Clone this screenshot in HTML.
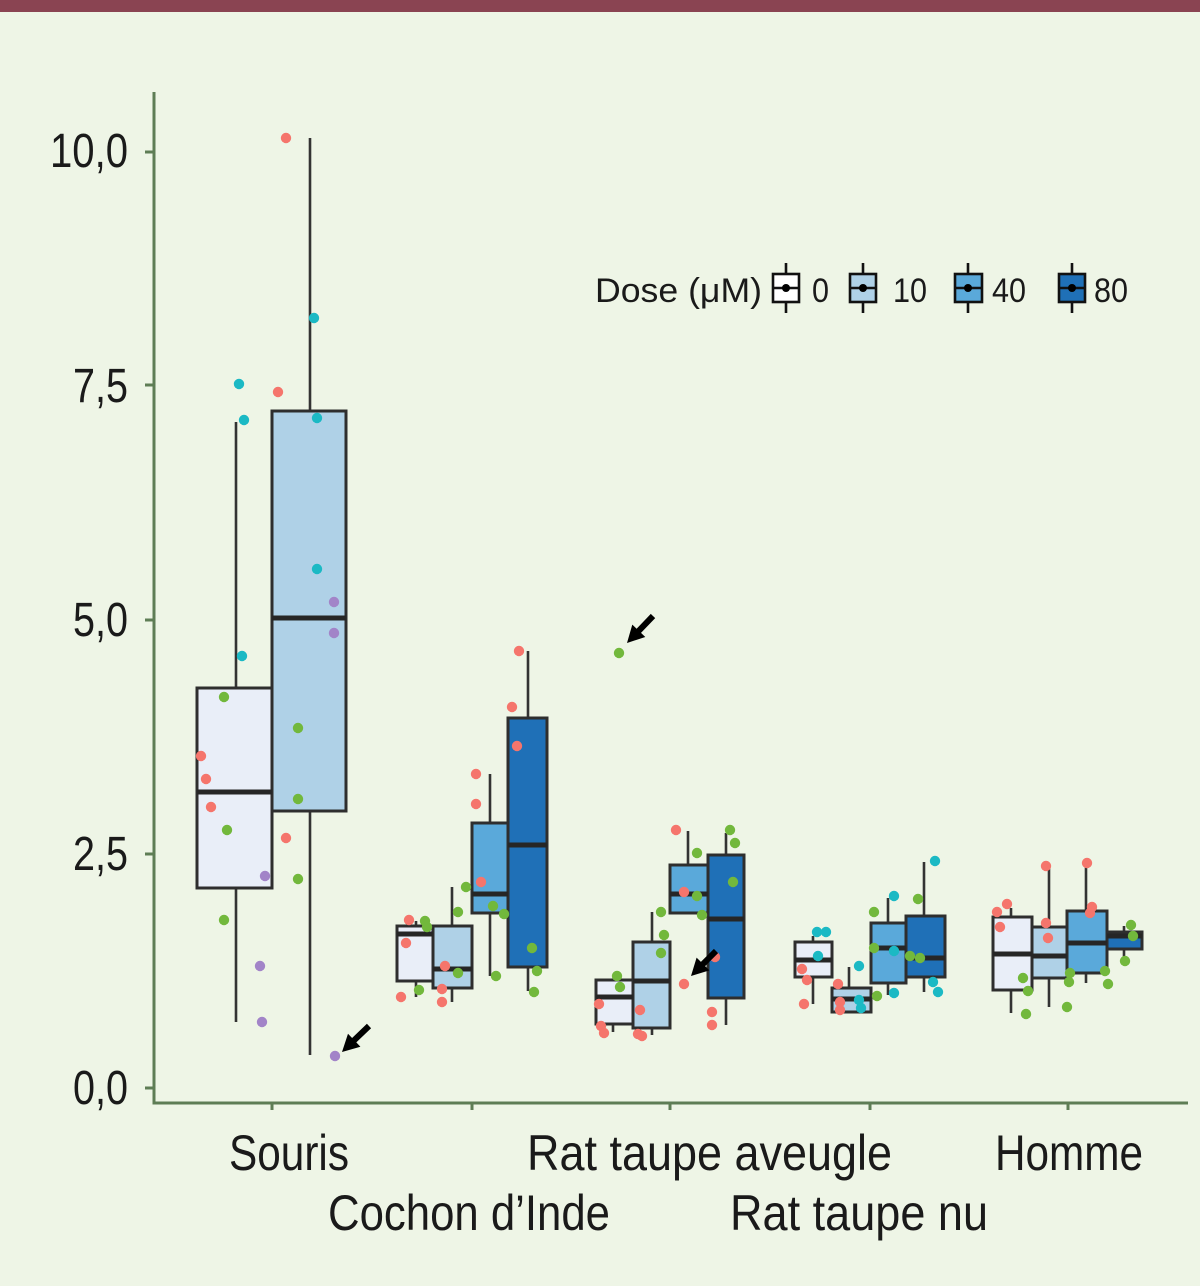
<!DOCTYPE html>
<html>
<head>
<meta charset="utf-8">
<style>
  html, body { margin:0; padding:0; background:#eef5e6; }
  body { width:1200px; height:1286px; overflow:hidden; }
  svg { display:block; }
  text { font-family: "Liberation Sans", "DejaVu Sans", sans-serif; fill:#1a1a1a; }
</style>
</head>
<body>
<svg width="1200" height="1286" viewBox="0 0 1200 1286" xmlns="http://www.w3.org/2000/svg">
  <rect x="0" y="0" width="1200" height="1286" fill="#eef5e6"/>
  <rect x="0" y="0" width="1200" height="12" fill="#8a4452"/>

  <!-- axes -->
  <g stroke="#5e7d55" stroke-width="3" fill="none">
    <line x1="154" y1="92" x2="154" y2="1104"/>
    <line x1="152.5" y1="1103" x2="1188" y2="1103"/>
    <line x1="145" y1="152" x2="154" y2="152"/>
    <line x1="145" y1="385" x2="154" y2="385"/>
    <line x1="145" y1="620" x2="154" y2="620"/>
    <line x1="145" y1="854" x2="154" y2="854"/>
    <line x1="145" y1="1088" x2="154" y2="1088"/>
    <line x1="272" y1="1103" x2="272" y2="1110"/>
    <line x1="472" y1="1103" x2="472" y2="1110"/>
    <line x1="670" y1="1103" x2="670" y2="1110"/>
    <line x1="870" y1="1103" x2="870" y2="1110"/>
    <line x1="1068" y1="1103" x2="1068" y2="1110"/>
  </g>

  <!-- y labels -->
  <g font-size="48">
    <text x="50" y="167" textLength="78" lengthAdjust="spacingAndGlyphs">10,0</text>
    <text x="73" y="402" textLength="55" lengthAdjust="spacingAndGlyphs">7,5</text>
    <text x="73" y="636" textLength="55" lengthAdjust="spacingAndGlyphs">5,0</text>
    <text x="73" y="870" textLength="55" lengthAdjust="spacingAndGlyphs">2,5</text>
    <text x="73" y="1104" textLength="55" lengthAdjust="spacingAndGlyphs">0,0</text>
  </g>

  <!-- x labels -->
  <g font-size="50">
    <text x="229" y="1170" textLength="120" lengthAdjust="spacingAndGlyphs">Souris</text>
    <text x="527" y="1170" textLength="365" lengthAdjust="spacingAndGlyphs">Rat taupe aveugle</text>
    <text x="995" y="1170" textLength="148" lengthAdjust="spacingAndGlyphs">Homme</text>
    <text x="328" y="1230" textLength="282" lengthAdjust="spacingAndGlyphs">Cochon d’Inde</text>
    <text x="730" y="1230" textLength="258" lengthAdjust="spacingAndGlyphs">Rat taupe nu</text>
  </g>

  <!-- whiskers -->
  <g stroke="#333" stroke-width="2.6">
    <line x1="236" y1="422" x2="236" y2="1022"/>
    <line x1="310" y1="138" x2="310" y2="1055"/>
    <line x1="416" y1="921" x2="416" y2="997"/>
    <line x1="452" y1="887" x2="452" y2="1002"/>
    <line x1="490" y1="774" x2="490" y2="976"/>
    <line x1="528" y1="651" x2="528" y2="991"/>
    <line x1="613" y1="980" x2="613" y2="1032"/>
    <line x1="652" y1="912" x2="652" y2="1035"/>
    <line x1="688" y1="831" x2="688" y2="913"/>
    <line x1="726" y1="833" x2="726" y2="1025"/>
    <line x1="813" y1="936" x2="813" y2="1004"/>
    <line x1="849" y1="967" x2="849" y2="1012"/>
    <line x1="888" y1="898" x2="888" y2="995"/>
    <line x1="924" y1="862" x2="924" y2="992"/>
    <line x1="1011" y1="908" x2="1011" y2="1013"/>
    <line x1="1049" y1="865" x2="1049" y2="1007"/>
    <line x1="1086" y1="863" x2="1086" y2="983"/>
    <line x1="1124" y1="926" x2="1124" y2="958"/>
  </g>

  <!-- boxes -->
  <g stroke="#2e2e2e" stroke-width="3">
    <rect x="197" y="688" width="75" height="200" fill="#e9eef8"/>
    <rect x="272" y="411" width="74" height="400" fill="#afd1e7"/>

    <rect x="397" y="926" width="36" height="55" fill="#e9eef8"/>
    <rect x="433" y="926" width="39" height="62" fill="#afd1e7"/>
    <rect x="472" y="823" width="36" height="90" fill="#5aa9da"/>
    <rect x="508" y="718" width="39" height="249" fill="#1f70b7"/>

    <rect x="596" y="980" width="37" height="44" fill="#e9eef8"/>
    <rect x="633" y="942" width="37" height="86" fill="#afd1e7"/>
    <rect x="670" y="865" width="38" height="48" fill="#5aa9da"/>
    <rect x="708" y="855" width="36" height="143" fill="#1f70b7"/>

    <rect x="795" y="942" width="37" height="35" fill="#e9eef8"/>
    <rect x="832" y="988" width="39" height="24" fill="#afd1e7"/>
    <rect x="871" y="923" width="35" height="60" fill="#5aa9da"/>
    <rect x="906" y="916" width="39" height="61" fill="#1f70b7"/>

    <rect x="993" y="917" width="39" height="73" fill="#e9eef8"/>
    <rect x="1032" y="927" width="35" height="51" fill="#afd1e7"/>
    <rect x="1067" y="911" width="40" height="62" fill="#5aa9da"/>
    <rect x="1107" y="932" width="35" height="17" fill="#1f70b7"/>
  </g>

  <!-- medians -->
  <g stroke="#262626" stroke-width="5">
    <line x1="197" y1="792" x2="272" y2="792"/>
    <line x1="272" y1="618" x2="346" y2="618"/>
    <line x1="397" y1="934" x2="433" y2="934"/>
    <line x1="433" y1="969" x2="472" y2="969"/>
    <line x1="472" y1="894" x2="508" y2="894"/>
    <line x1="508" y1="845" x2="547" y2="845"/>
    <line x1="596" y1="997" x2="633" y2="997"/>
    <line x1="633" y1="981" x2="670" y2="981"/>
    <line x1="670" y1="894" x2="708" y2="894"/>
    <line x1="708" y1="919" x2="744" y2="919"/>
    <line x1="795" y1="960" x2="832" y2="960"/>
    <line x1="832" y1="999" x2="871" y2="999"/>
    <line x1="871" y1="948" x2="906" y2="948"/>
    <line x1="906" y1="958" x2="945" y2="958"/>
    <line x1="993" y1="954" x2="1032" y2="954"/>
    <line x1="1032" y1="956" x2="1067" y2="956"/>
    <line x1="1067" y1="943" x2="1107" y2="943"/>
    <line x1="1107" y1="936" x2="1142" y2="936"/>
  </g>

  <!-- points: red -->
  <g fill="#f5756c">
    <circle cx="201" cy="756" r="5.2"/><circle cx="206" cy="779" r="5.2"/><circle cx="211" cy="807" r="5.2"/>
    <circle cx="286" cy="138" r="5.2"/><circle cx="278" cy="392" r="5.2"/><circle cx="286" cy="838" r="5.2"/>
    <circle cx="409" cy="920" r="5.2"/><circle cx="406" cy="943" r="5.2"/><circle cx="401" cy="997" r="5.2"/>
    <circle cx="445" cy="966" r="5.2"/><circle cx="442" cy="989" r="5.2"/><circle cx="442" cy="1002" r="5.2"/>
    <circle cx="476" cy="774" r="5.2"/><circle cx="476" cy="804" r="5.2"/><circle cx="481" cy="882" r="5.2"/>
    <circle cx="519" cy="651" r="5.2"/><circle cx="512" cy="707" r="5.2"/><circle cx="517" cy="746" r="5.2"/>
    <circle cx="599" cy="1004" r="5.2"/><circle cx="601" cy="1026" r="5.2"/><circle cx="604" cy="1033" r="5.2"/>
    <circle cx="640" cy="1010" r="5.2"/><circle cx="638" cy="1034" r="5.2"/><circle cx="642" cy="1036" r="5.2"/>
    <circle cx="676" cy="830" r="5.2"/><circle cx="684" cy="892" r="5.2"/><circle cx="684" cy="984" r="5.2"/>
    <circle cx="715" cy="957" r="5.2"/><circle cx="712" cy="1012" r="5.2"/><circle cx="712" cy="1025" r="5.2"/>
    <circle cx="802" cy="969" r="5.2"/><circle cx="807" cy="980" r="5.2"/><circle cx="804" cy="1004" r="5.2"/>
    <circle cx="838" cy="984" r="5.2"/><circle cx="840" cy="1002" r="5.2"/><circle cx="840" cy="1010" r="5.2"/>
    <circle cx="1007" cy="904" r="5.2"/><circle cx="997" cy="912" r="5.2"/><circle cx="1000" cy="927" r="5.2"/>
    <circle cx="1046" cy="866" r="5.2"/><circle cx="1046" cy="923" r="5.2"/><circle cx="1048" cy="938" r="5.2"/>
    <circle cx="1087" cy="863" r="5.2"/><circle cx="1092" cy="907" r="5.2"/><circle cx="1090" cy="913" r="5.2"/>
  </g>
  <!-- points: green -->
  <g fill="#72b83c">
    <circle cx="224" cy="697" r="5.2"/><circle cx="227" cy="830" r="5.2"/><circle cx="224" cy="920" r="5.2"/>
    <circle cx="298" cy="728" r="5.2"/><circle cx="298" cy="799" r="5.2"/><circle cx="298" cy="879" r="5.2"/>
    <circle cx="425" cy="921" r="5.2"/><circle cx="427" cy="927" r="5.2"/><circle cx="419" cy="990" r="5.2"/>
    <circle cx="458" cy="912" r="5.2"/><circle cx="458" cy="973" r="5.2"/><circle cx="466" cy="887" r="5.2"/>
    <circle cx="493" cy="906" r="5.2"/><circle cx="504" cy="914" r="5.2"/><circle cx="496" cy="976" r="5.2"/>
    <circle cx="532" cy="948" r="5.2"/><circle cx="537" cy="971" r="5.2"/><circle cx="534" cy="992" r="5.2"/>
    <circle cx="619" cy="653" r="5.2"/><circle cx="617" cy="976" r="5.2"/><circle cx="620" cy="987" r="5.2"/>
    <circle cx="661" cy="912" r="5.2"/><circle cx="664" cy="935" r="5.2"/><circle cx="661" cy="953" r="5.2"/>
    <circle cx="697" cy="853" r="5.2"/><circle cx="697" cy="896" r="5.2"/><circle cx="702" cy="915" r="5.2"/>
    <circle cx="730" cy="830" r="5.2"/><circle cx="735" cy="843" r="5.2"/><circle cx="733" cy="882" r="5.2"/>
    <circle cx="874" cy="912" r="5.2"/><circle cx="874" cy="948" r="5.2"/><circle cx="877" cy="996" r="5.2"/>
    <circle cx="918" cy="899" r="5.2"/><circle cx="910" cy="956" r="5.2"/><circle cx="920" cy="958" r="5.2"/>
    <circle cx="1023" cy="978" r="5.2"/><circle cx="1028" cy="991" r="5.2"/><circle cx="1026" cy="1014" r="5.2"/>
    <circle cx="1070" cy="973" r="5.2"/><circle cx="1069" cy="982" r="5.2"/><circle cx="1067" cy="1007" r="5.2"/>
    <circle cx="1105" cy="971" r="5.2"/><circle cx="1108" cy="984" r="5.2"/>
    <circle cx="1131" cy="925" r="5.2"/><circle cx="1133" cy="936" r="5.2"/><circle cx="1125" cy="961" r="5.2"/>
  </g>
  <!-- points: cyan -->
  <g fill="#1bb9c4">
    <circle cx="239" cy="384" r="5.2"/><circle cx="244" cy="420" r="5.2"/><circle cx="242" cy="656" r="5.2"/>
    <circle cx="314" cy="318" r="5.2"/><circle cx="317" cy="418" r="5.2"/><circle cx="317" cy="569" r="5.2"/>
    <circle cx="817" cy="932" r="5.2"/><circle cx="826" cy="932" r="5.2"/><circle cx="818" cy="956" r="5.2"/>
    <circle cx="859" cy="966" r="5.2"/><circle cx="859" cy="1000" r="5.2"/><circle cx="861" cy="1008" r="5.2"/>
    <circle cx="894" cy="896" r="5.2"/><circle cx="894" cy="951" r="5.2"/><circle cx="894" cy="993" r="5.2"/>
    <circle cx="935" cy="861" r="5.2"/><circle cx="933" cy="982" r="5.2"/><circle cx="938" cy="992" r="5.2"/>
  </g>
  <!-- points: purple -->
  <g fill="#a284c8">
    <circle cx="265" cy="876" r="5.2"/><circle cx="260" cy="966" r="5.2"/><circle cx="262" cy="1022" r="5.2"/>
    <circle cx="334" cy="602" r="5.2"/><circle cx="334" cy="633" r="5.2"/><circle cx="335" cy="1056" r="5.2"/>
  </g>

  <!-- arrows -->
  <g fill="#000">
    <polygon points="342,1052 360.4,1046.7 356.3,1042.4 371.1,1028.2 366.9,1023.8 352.1,1038.0 348.0,1033.7"/>
    <polygon points="627,643 645.3,637.0 641.0,632.9 655.2,618.1 650.8,613.9 636.6,628.7 632.3,624.6"/>
    <polygon points="691,976 709.4,970.4 705.1,966.1 718.1,953.1 713.9,948.9 700.9,961.9 696.6,957.6"/>
  </g>

  <!-- legend -->
  <g font-size="34">
    <text x="595" y="302" textLength="167" lengthAdjust="spacingAndGlyphs">Dose (μM)</text>
    <text x="812" y="302" textLength="17" lengthAdjust="spacingAndGlyphs">0</text>
    <text x="893" y="302" textLength="34" lengthAdjust="spacingAndGlyphs">10</text>
    <text x="992" y="302" textLength="34" lengthAdjust="spacingAndGlyphs">40</text>
    <text x="1094" y="302" textLength="34" lengthAdjust="spacingAndGlyphs">80</text>
  </g>
  <g stroke="#111" stroke-width="2.6">
    <line x1="786" y1="263" x2="786" y2="313"/>
    <rect x="773" y="274" width="26" height="28" fill="#ffffff"/>
    <line x1="773" y1="288" x2="799" y2="288"/>
    <line x1="863" y1="263" x2="863" y2="313"/>
    <rect x="850" y="274" width="26" height="28" fill="#afd1e7"/>
    <line x1="850" y1="288" x2="876" y2="288"/>
    <line x1="968" y1="263" x2="968" y2="313"/>
    <rect x="955" y="274" width="27" height="28" fill="#5aa9da"/>
    <line x1="955" y1="288" x2="982" y2="288"/>
    <line x1="1072" y1="263" x2="1072" y2="313"/>
    <rect x="1059" y="274" width="26" height="28" fill="#1f70b7"/>
    <line x1="1059" y1="288" x2="1085" y2="288"/>
  </g>
  <g fill="#000">
    <circle cx="786" cy="288" r="4"/>
    <circle cx="863" cy="288" r="4"/>
    <circle cx="968" cy="288" r="4"/>
    <circle cx="1072" cy="288" r="4"/>
  </g>
</svg>
</body>
</html>
